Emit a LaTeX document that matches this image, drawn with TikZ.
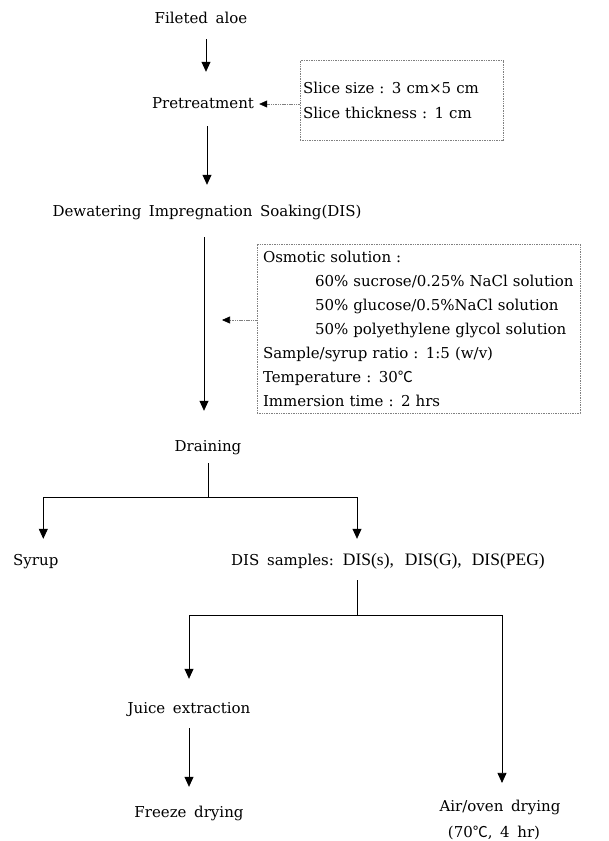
\documentclass[tikz,border=0pt]{standalone}
\usepackage{fontspec}
\setmainfont{DejaVu Serif}[WordSpace=1.6]
\newfontfamily\timesfont{Liberation Serif}
\newfontfamily\symfont{Noto Sans CJK KR}
\usetikzlibrary{arrows.meta}
\newcommand{\degcel}{{\symfont ℃}}
\begin{document}
\begin{tikzpicture}[x=1pt,y=-1pt,
  lbl/.style={inner sep=0pt, text height=11pt, text depth=3pt, font=\fontsize{15}{18}\selectfont},
  arr/.style={draw=black, line width=0.8pt, -{Triangle[length=10pt,width=9pt]}},
  plain/.style={draw=black, line width=0.8pt},
  dotbox/.style={draw=gray, line width=0.6pt, dash pattern=on 1pt off 0.7pt, rectangle},
  darr/.style={draw=gray, line width=0.6pt, dash pattern=on 1.5pt off 0.8pt, -{Triangle[length=8pt,width=7pt,color=black]}},
]
\useasboundingbox (0,0) rectangle (608,841);

% main flow nodes
\node[lbl] (aloe) at (201,19) {Fileted aloe};
\node[lbl] (pre) at (203,104) {Pretreatment};
\node[lbl] (dis) at (207,212) {Dewatering Impregnation Soaking(DIS)};
\node[lbl] (drain) at (208,447) {Draining};
\node[lbl, anchor=west] (syrup) at (13,561) {Syrup};
\node[lbl] (samp) at (388,561) {DIS samples:\hspace{9pt}{\timesfont\fontsize{17.5}{18}\selectfont DIS(s),\hspace{11pt}DIS(G),\hspace{10pt}DIS(PEG)}};
\node[lbl] (juice) at (189,709) {Juice extraction};
\node[lbl] (freeze) at (189,813) {Freeze drying};
\node[inner sep=0pt, align=center, font=\fontsize{15}{26}\selectfont] (air) at (500,820) {Air/oven drying\\[0pt]\hspace*{-12pt}(70\degcel, 4 hr)};

% side boxes
\node[dotbox, minimum width=203pt, minimum height=80pt, text width=197pt, inner xsep=3pt, align=left,
      font=\fontsize{15}{24.5}\selectfont] (slice) at (401.5,100.5)
  {Slice size : 3 cm×5 cm\\Slice thickness : 1 cm};
\node[dotbox, minimum width=323pt, minimum height=169pt, text width=311pt, inner xsep=6pt, align=left,
      font=\fontsize{15}{24}\selectfont] (osm) at (418.5,328.5)
  {Osmotic solution :\\
   \hspace*{52pt}60\% sucrose/0.25\% NaCl solution\\
   \hspace*{52pt}50\% glucose/0.5\%NaCl solution\\
   \hspace*{52pt}50\% polyethylene glycol solution\\
   Sample/syrup ratio : 1:5 (w/v)\\
   Temperature : 30\degcel\\
   Immersion time : 2 hrs};

% fork points and free end
\coordinate (fork1) at (208,497);
\coordinate (fork2) at (357,615);
\coordinate (osmtip) at (222,320);

% connectors
\draw[arr, shorten <=13pt, shorten >=25pt] ([xshift=5pt]aloe.south) -- ([xshift=3pt]pre.north);
\draw[arr, shorten <=15pt, shorten >=20pt] ([xshift=4pt]pre.south) -- (dis.north);
\draw[arr, shorten <=18pt, shorten >=29pt] ([xshift=-3pt]dis.south) -- ([xshift=-4pt]drain.north);
\draw[darr, shorten >=5pt] (slice.west |- pre.east) -- (pre.east);
\draw[darr] (osm.west |- osmtip) -- (osmtip);

\draw[plain] ([yshift=-9pt]drain.south) -- (fork1);
\draw[arr, shorten >=15pt] (fork1) -| ([xshift=7.5pt]syrup.north);
\draw[arr, shorten >=15pt] (fork1) -| ([xshift=-31pt]samp.north);

\draw[plain] ([yshift=-12pt]samp.south -| fork2) -- (fork2);
\draw[arr, shorten >=23pt] (fork2) -| (juice.north);
\draw[arr, shorten >=17pt] (fork2) -| ([xshift=2pt]air.north);
\draw[arr, shorten <=12pt, shorten >=19pt] (juice.south) -- (freeze.north);
\end{tikzpicture}
\end{document}
